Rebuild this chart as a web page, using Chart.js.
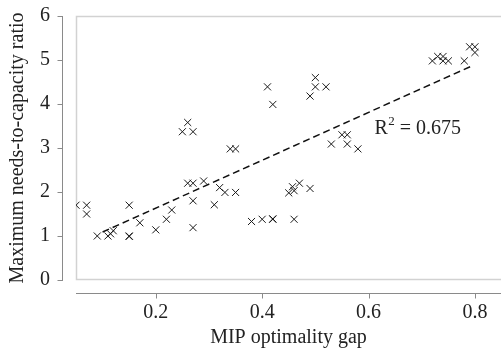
<!DOCTYPE html>
<html>
<head>
<meta charset="utf-8">
<script src="https://cdn.jsdelivr.net/npm/chart.js@4/dist/chart.umd.min.js"></script>
<style>
  html, body { margin: 0; padding: 0; background: #fff; }
  #wrap { width: 501px; height: 353px; }
</style>
</head>
<body>
<div id="wrap"><canvas id="chart"></canvas></div>
<script>
// MIP optimality gap vs maximum needs-to-capacity ratio
const gapX = [
  0.05, 0.07, 0.07, 0.09, 0.11, 0.115, 0.12, 0.15, 0.15, 0.15,
  0.17, 0.20, 0.22, 0.23, 0.25, 0.26, 0.26, 0.27, 0.27, 0.27,
  0.27, 0.29, 0.31, 0.32, 0.33, 0.34, 0.35, 0.35, 0.38, 0.40,
  0.41, 0.42, 0.42, 0.42, 0.45, 0.457, 0.46, 0.46, 0.47, 0.49,
  0.49, 0.50, 0.50, 0.52, 0.53, 0.55, 0.56, 0.56, 0.58, 0.72,
  0.73, 0.74, 0.74, 0.75, 0.78, 0.79, 0.80, 0.80
];
const ratioY = [
  1.70, 1.70, 1.50, 1.00, 1.00, 1.05, 1.12, 1.70, 1.00, 0.99,
  1.30, 1.14, 1.38, 1.59, 3.37, 3.58, 2.20, 3.37, 2.20, 1.80,
  1.19, 2.25, 1.71, 2.10, 1.99, 2.98, 2.98, 1.99, 1.33, 1.38,
  4.39, 3.99, 1.38, 1.39, 1.98, 2.12, 2.03, 1.38, 2.20, 2.08,
  4.18, 4.60, 4.39, 4.39, 3.09, 3.30, 3.30, 3.09, 2.98, 4.98,
  5.08, 5.08, 4.98, 4.98, 4.98, 5.30, 5.30, 5.17
];
// dashed regression line
const trendX = [0.10, 0.795];
const trendY = [1.09, 4.87];
const r2Text = "0.675";
const r2At = [0.611, 3.43];

const xTicks = [0.2, 0.4, 0.6, 0.8];
const yTicks = [0, 1, 2, 3, 4, 5, 6];

const serif = "'Liberation Serif', 'DejaVu Serif', serif";
const textColor = "#222";

const axesFrame = {
  id: "axesFrame",
  beforeDatasetsDraw(chart) {
    const { ctx, chartArea: a, scales: { x, y } } = chart;
    const edge = chart.width + 2;
    ctx.save();
    // light frame round the plot area (right side is cut off)
    ctx.strokeStyle = "#d2d2d2";
    ctx.lineWidth = 1.5;
    ctx.beginPath();
    ctx.moveTo(edge, a.top + 0.5);
    ctx.lineTo(a.left + 0.5, a.top + 0.5);
    ctx.lineTo(a.left + 0.5, a.bottom - 0.5);
    ctx.lineTo(edge, a.bottom - 0.5);
    ctx.stroke();

    // detached axes
    ctx.strokeStyle = "#8a8a8a";
    ctx.lineWidth = 1;
    ctx.beginPath();
    const yx = a.left - 13.5;
    ctx.moveTo(yx, y.getPixelForValue(yTicks[yTicks.length - 1]));
    ctx.lineTo(yx, y.getPixelForValue(yTicks[0]) + 1);
    yTicks.forEach((v) => {
      const py = Math.round(y.getPixelForValue(v)) + 0.5;
      ctx.moveTo(yx - 5, py);
      ctx.lineTo(yx, py);
    });
    const xy = a.bottom + 13.5;
    ctx.moveTo(a.left, xy);
    ctx.lineTo(edge, xy);
    xTicks.forEach((v) => {
      const px = Math.round(x.getPixelForValue(v)) + 0.5;
      ctx.moveTo(px, xy);
      ctx.lineTo(px, xy + 5);
    });
    ctx.stroke();

    // R^2 annotation
    let tx = x.getPixelForValue(r2At[0]);
    const ty = y.getPixelForValue(r2At[1]);
    ctx.fillStyle = textColor;
    ctx.textBaseline = "middle";
    ctx.textAlign = "left";
    ctx.font = "20px " + serif;
    ctx.fillText("R", tx, ty);
    tx += ctx.measureText("R").width;
    ctx.font = "13px " + serif;
    ctx.fillText("2", tx + 0.5, ty - 8);
    tx += ctx.measureText("2").width + 0.5;
    ctx.font = "20px " + serif;
    ctx.fillText(" = " + r2Text, tx, ty);
    ctx.restore();
  }
};

new Chart(document.getElementById("chart"), {
  type: "scatter",
  data: {
    datasets: [
      {
        label: "instances",
        data: gapX.map((g, i) => ({ x: g, y: ratioY[i] })),
        pointStyle: "crossRot",
        pointRadius: 5,
        pointHoverRadius: 5,
        pointBorderColor: "#1a1a1a",
        pointBorderWidth: 1,
        pointBackgroundColor: "#1a1a1a",
      },
      {
        type: "line",
        label: "fit",
        data: trendX.map((g, i) => ({ x: g, y: trendY[i] })),
        borderColor: "#111",
        borderWidth: 1.5,
        borderDash: [7, 4],
        pointRadius: 0,
        fill: false,
      },
    ],
  },
  options: {
    responsive: true,
    maintainAspectRatio: false,
    animation: false,
    layout: { autoPadding: false, padding: { top: 16, right: 0, bottom: 0, left: 0 } },
    plugins: { legend: { display: false }, tooltip: { enabled: false } },
    scales: {
      x: {
        type: "linear",
        min: 0.05,
        max: 0.849,
        afterBuildTicks: (s) => { s.ticks = xTicks.map((v) => ({ value: v })); },
        afterFit: (s) => {
          s.height = 73;
          s.paddingLeft = 0;
          s.paddingRight = 0;
        },
        grid: { display: false, drawTicks: false },
        border: { display: false },
        ticks: {
          autoSkip: false,
          maxRotation: 0,
          padding: 21,
          color: textColor,
          font: { family: serif, size: 20 },
          callback: (v) => v.toFixed(1),
        },
        title: {
          display: true,
          text: "MIP optimality gap",
          color: textColor,
          font: { family: serif, size: 20 },
          padding: { top: 0, bottom: 3 },
        },
      },
      y: {
        type: "linear",
        min: 0,
        max: 6,
        afterBuildTicks: (s) => { s.ticks = yTicks.map((v) => ({ value: v })); },
        afterFit: (s) => {
          s.width = 76;
          s.paddingTop = 0;
          s.paddingBottom = 0;
        },
        grid: { display: false, drawTicks: false },
        border: { display: false },
        ticks: {
          autoSkip: false,
          padding: 26,
          color: textColor,
          font: { family: serif, size: 20 },
        },
        title: {
          display: true,
          text: "Maximum needs-to-capacity ratio",
          color: textColor,
          font: { family: serif, size: 20 },
          padding: { top: 6, bottom: 0 },
        },
      },
    },
  },
  plugins: [axesFrame],
});
</script>
</body>
</html>
